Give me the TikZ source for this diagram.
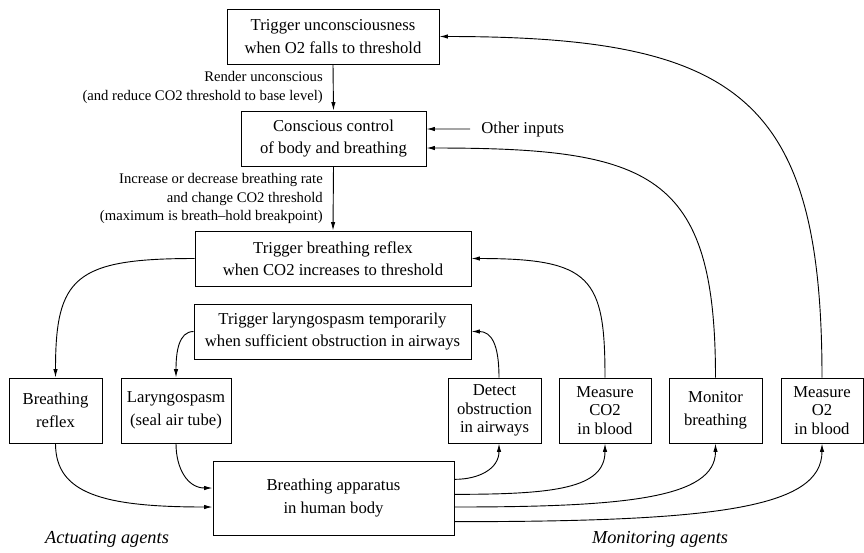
\documentclass[tikz,border=0pt]{standalone}
\usepackage{fontspec}
\setmainfont{Liberation Serif}
\usetikzlibrary{arrows.meta}

\begin{document}
\begin{tikzpicture}[x=0.6pt, y=-0.6pt,
    box/.style={draw, line width=0.6pt, inner sep=0pt, align=center, minimum height=33pt, font=\fontsize{10}{13.5}\selectfont},
    agent/.style={box, minimum height=39pt},
    tight/.style={font=\fontsize{10}{11}\selectfont},
    arr/.style={line width=0.55pt, -{Latex[length=5pt,width=2.6pt]}},
    note/.style={inner sep=0pt, align=right, font=\fontsize{8.8}{11.2}\selectfont}]
  \useasboundingbox (0,0) rectangle (864,552);

  % control boxes
  \node[box, minimum width=127.2pt] (unconsc) at (333,36.5) {Trigger unconsciousness\\when O2 falls to threshold};
  \node[box, minimum width=111pt] (conscious) at (333.5,138.5) {Conscious control\\of body and breathing};
  \node[box, minimum width=165.6pt] (reflextrig) at (333,258.5) {Trigger breathing reflex\\when CO2 increases to threshold};
  \node[box, minimum width=166.2pt] (spasmtrig) at (332.5,331.5) {Trigger laryngospasm temporarily\\when sufficient obstruction in airways};
  \node[anchor=west, inner sep=0pt] (other) at (481,129) {Other inputs};

  % agents
  \node[agent, minimum width=55.8pt] (reflex) at (55.5,410.5) {Breathing\\reflex};
  \node[agent, minimum width=66pt] (spasm) at (176,410.5) {Laryngospasm\\(seal air tube)};
  \node[agent, tight, minimum width=55.8pt] (detect) at (494.5,410.5) {Detect\\obstruction\\in airways};
  \node[agent, tight, minimum width=55.2pt] (co2) at (605,410.5) {Measure\\CO2\\in blood};
  \node[agent, minimum width=55.8pt] (monitor) at (715.5,410.5) {Monitor\\breathing};
  \node[agent, tight, minimum width=49.2pt] (o2) at (822,410.5) {Measure\\O2\\in blood};
  \node[box, minimum width=144.6pt, minimum height=44.4pt] (body) at (333.5,498) {Breathing apparatus\\in human body};

  \node[font=\fontsize{11}{13}\selectfont\itshape] (act) at (107,539) {Actuating agents};
  \node[font=\fontsize{11}{13}\selectfont\itshape] (mon) at (660,539) {Monitoring agents};

  % downward commands
  \draw[arr] (unconsc.south) -- (conscious.north) node[note, midway, left=6pt] {Render unconscious\\(and reduce CO2 threshold to base level)};
  \draw[arr] (conscious.south) -- (reflextrig.north) node[note, midway, left=6pt] {Increase or decrease breathing rate\\and change CO2 threshold\\(maximum is breath--hold breakpoint)};
  \draw[arr] ([xshift=-6.6pt]other.west) -- ([yshift=5.7pt]conscious.east);

  % triggers to actuators
  \draw[arr] (reflextrig.west) .. controls +(-120,0) and +(0,-100) .. (reflex.north);
  \draw[arr] (spasmtrig.west) .. controls +(-15,0) and +(0,-25) .. (spasm.north);

  % monitors back up
  \draw[arr] ([xshift=2.7pt]detect.north) .. controls +(0,-33) and +(20,0) .. (spasmtrig.east);
  \draw[arr] (co2.north) .. controls +(0,-100) and +(120,0) .. (reflextrig.east);
  \draw[arr] (monitor.north) .. controls +(0,-205) and +(225,0) .. ([yshift=-5.7pt]conscious.east);
  \draw[arr] (o2.north) .. controls +(0,-280) and +(300,0) .. (unconsc.east);

  % actuators into body
  \draw[arr] (reflex.south) .. controls +(0,50) and +(-110,0) .. ([yshift=-5.4pt]body.west);
  \draw[arr] (spasm.south) .. controls +(0,25) and +(-25,0) .. ([yshift=6pt]body.west);

  % body out to monitors
  \draw[arr] ([yshift=11.2pt]body.east) .. controls +(25,0) and +(0,25) .. ([xshift=2.7pt]detect.south);
  \draw[arr] ([yshift=2.2pt]body.east) .. controls +(100,0) and +(0,45) .. (co2.south);
  \draw[arr] ([yshift=-5.4pt]body.east) .. controls +(170,0) and +(0,55) .. (monitor.south);
  \draw[arr] ([yshift=-14.2pt]body.east) .. controls +(260,0) and +(0,65) .. (o2.south);
\end{tikzpicture}
\end{document}
